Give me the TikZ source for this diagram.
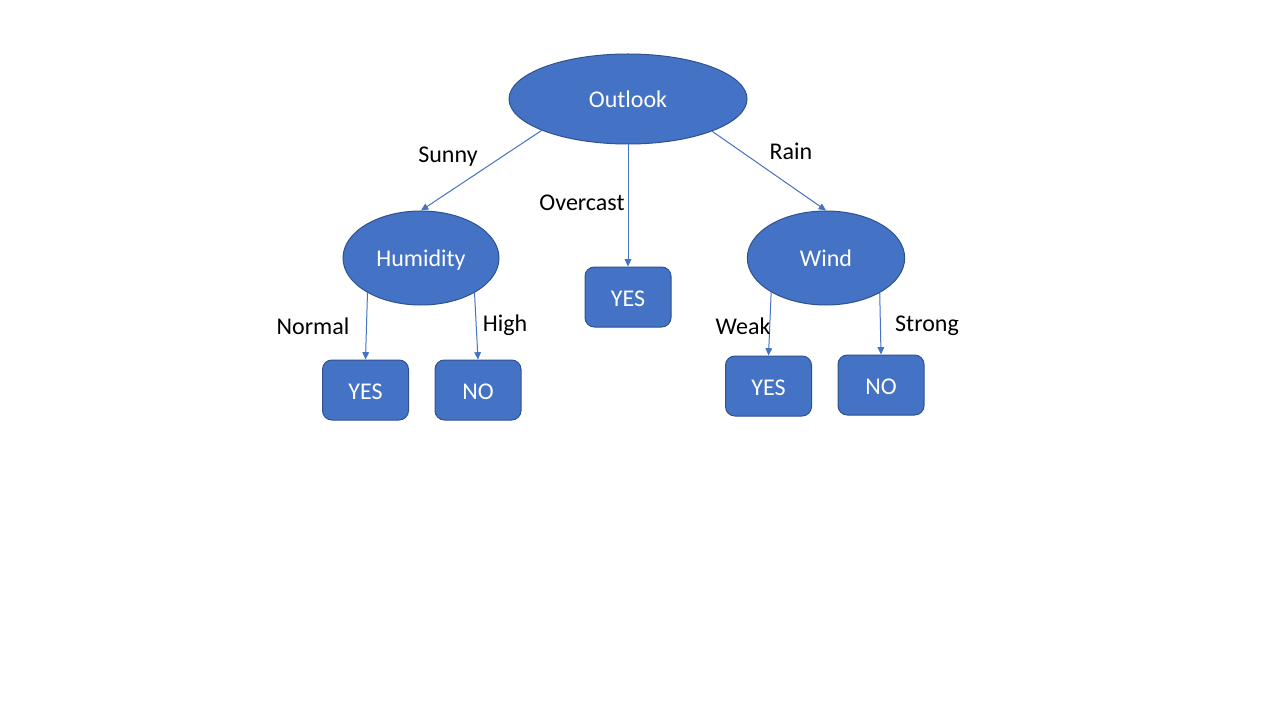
\documentclass[tikz,border=0pt]{standalone}
\usepackage{fontspec}
\setmainfont{Carlito}
\usetikzlibrary{shapes.geometric,arrows.meta}
\definecolor{nodefill}{HTML}{4472C4}
\definecolor{nodeedge}{HTML}{2F528F}
\begin{document}
\begin{tikzpicture}[x=0.75pt,y=-0.75pt,
  every node/.style={font=\fontsize{18}{22}\selectfont,text height=14.75pt,text depth=1.25pt},
  oval/.style={ellipse,draw=nodeedge,fill=nodefill,line width=0.75pt,text=white,inner sep=0pt},
  leaf/.style={rectangle,rounded corners=7pt,draw=nodeedge,fill=nodefill,line width=0.75pt,text=white,inner sep=0pt,minimum width=64.5pt,minimum height=45pt},
  link/.style={draw=nodefill,line width=0.75pt,-{Triangle[length=5.5pt,width=5pt]}},
  lbl/.style={text=black,inner sep=0pt}]
\useasboundingbox (0,0) rectangle (1280,720);
\fill[white] (0,0) rectangle (1280,720);
\node[oval,minimum width=178.5pt,minimum height=67.5pt] (outlook) at (628,99) {Outlook};
\node[oval,minimum width=117pt,minimum height=70.5pt] (humidity) at (421,258) {Humidity};
\node[oval,minimum width=118pt,minimum height=70.5pt] (wind) at (826,258) {Wind};
\node[leaf] (yesmid) at (628,297) {YES};
\node[leaf] (yesl) at (365.5,390) {YES};
\node[leaf] (nol) at (478,390) {NO};
\node[leaf] (yesr) at (768.5,386) {YES};
\node[leaf] (nor) at (881,385) {NO};
\draw[link] (outlook.200.6) -- (humidity.north);
\draw[link] (outlook.south) -- (yesmid.north);
\draw[link] (outlook.339.6) -- (wind.north);
\draw[link] (humidity.213) -- (yesl.north);
\draw[link] (humidity.327.5) -- (nol.north);
\draw[link] (wind.212.5) -- (yesr.north);
\draw[link] (wind.327.5) -- (nor.north);
\node[lbl] (sunny) at (448,154) {Sunny};
\node[lbl] (overcast) at (582,202) {Overcast};
\node[lbl] (rain) at (791,151) {Rain};
\node[lbl] (normal) at (313,325) {Normal};
\node[lbl] (high) at (505,322) {High};
\node[lbl] (weak) at (743,325) {Weak};
\node[lbl] (strong) at (927,322) {Strong};
\end{tikzpicture}
\end{document}
